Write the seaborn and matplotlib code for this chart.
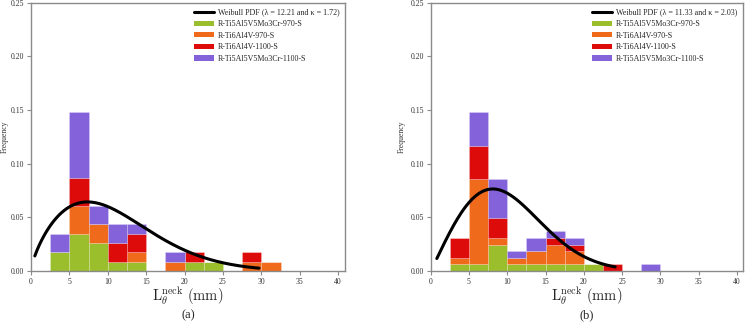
import numpy as np
import pandas as pd
import matplotlib
matplotlib.use("Agg")
import matplotlib.pyplot as plt
import seaborn as sns
from matplotlib.lines import Line2D
from matplotlib.patches import Patch

# ---------------- data ----------------
series = ["R-Ti5Al5V5Mo3Cr-970-S", "R-Ti6Al4V-970-S",
          "R-Ti6Al4V-1100-S", "R-Ti5Al5V5Mo3Cr-1100-S"]
colors = ["#9bbe2d", "#ef6a1a", "#de0b0b", "#8462da"]
bin_width = 2.5

# panel (a)
bin_left_a = [2.5, 5, 7.5, 10, 12.5, 15, 17.5, 20, 22.5, 25, 27.5, 30]
counts_a_green = [2, 4, 3, 1, 1, 0, 0, 1, 1, 0, 0, 0]
counts_a_orange = [0, 3, 2, 0, 1, 0, 1, 0, 0, 0, 1, 1]
counts_a_red = [0, 3, 0, 2, 2, 0, 0, 1, 0, 0, 1, 0]
counts_a_purple = [2, 7, 2, 2, 1, 0, 1, 0, 0, 0, 0, 0]
weibull_lambda_a = 12.21
weibull_kappa_a = 1.72
curve_range_a = (0.5, 29.7)

# panel (b)
bin_left_b = [2.5, 5, 7.5, 10, 12.5, 15, 17.5, 20, 22.5, 25, 27.5]
counts_b_green = [1, 1, 4, 1, 1, 1, 1, 1, 0, 0, 0]
counts_b_orange = [1, 13, 1, 1, 2, 3, 2, 0, 0, 0, 0]
counts_b_red = [3, 5, 3, 0, 0, 1, 1, 0, 1, 0, 0]
counts_b_purple = [0, 5, 6, 1, 2, 1, 1, 0, 0, 0, 1]
weibull_lambda_b = 11.33
weibull_kappa_b = 2.03
curve_range_b = (0.8, 24.1)

x_ticks = [0, 5, 10, 15, 20, 25, 30, 35, 40]
y_ticks = [0.00, 0.05, 0.10, 0.15, 0.20, 0.25]

# ---------------- style ----------------
sns.set_style("ticks")
plt.rcParams["font.family"] = ["Liberation Serif", "DejaVu Serif"]
plt.rcParams["mathtext.fontset"] = "cm"

fig = plt.figure(figsize=(7.46, 3.30), dpi=100)
ax_a = fig.add_axes([31 / 746, 59 / 330, 314 / 746, 268.3 / 330])
ax_b = fig.add_axes([430.7 / 746, 59 / 330, 312.3 / 746, 268.3 / 330])


def make_df(bin_left, counts_list):
    rows = []
    for name, counts in zip(series, counts_list):
        for b, c in zip(bin_left, counts):
            rows.append({"x": b + bin_width / 2, "w": c, "series": name})
    return pd.DataFrame(rows)


def draw(ax, bin_left, counts_list, lam, kap, crange, xmax, ylab_x):
    df = make_df(bin_left, counts_list)
    edges = list(bin_left) + [bin_left[-1] + bin_width]
    sns.histplot(data=df, x="x", weights="w", hue="series",
                 hue_order=series[::-1], palette=dict(zip(series, colors)),
                 bins=edges, stat="density", common_norm=True,
                 multiple="stack", alpha=1, edgecolor=(1, 1, 1, 0.35),
                 linewidth=0.4, legend=False, ax=ax)
    xs = np.linspace(crange[0], crange[1], 200)
    pdf = (kap / lam) * (xs / lam) ** (kap - 1) * np.exp(-(xs / lam) ** kap)
    sns.lineplot(x=xs, y=pdf, color="black", linewidth=2.2, ax=ax, zorder=5)

    ax.set_xlim(0, xmax)
    ax.set_ylim(0, 0.25)
    ax.set_xticks(x_ticks)
    ax.set_yticks(y_ticks)
    ax.set_yticklabels([f"{v:.2f}" for v in y_ticks])
    for s in ax.spines.values():
        s.set_visible(True)
        s.set_color("#8a8a8a")
        s.set_linewidth(1.0)
    ax.tick_params(axis="both", length=3, width=0.8, color="#8a8a8a",
                   labelsize=5.6, labelcolor="#333333", pad=2)
    ax.set_ylabel("Frequency", fontsize=5.6, color="#333333")
    ax.yaxis.set_label_coords(ylab_x, 0.5)
    ax.set_xlabel(r"$\mathrm{L}_{\theta}^{\mathrm{neck}}\ (\mathrm{mm})$",
                  fontsize=10.5, labelpad=0)

    handles = [Line2D([0], [0], color="black", linewidth=2.2,
                      label=f"Weibull PDF (\u03bb = {lam:.2f} and \u03ba = {kap:.2f})")]
    for name, col in zip(series, colors):
        handles.append(Patch(facecolor=col, edgecolor="none", label=name))
    ax.legend(handles=handles, loc="upper right", frameon=False,
              prop={"family": "Liberation Serif", "size": 5.8},
              handlelength=2.5, handleheight=0.6,
              handletextpad=0.5, labelspacing=0.45, borderaxespad=0.4,
              borderpad=0.3)


draw(ax_a, bin_left_a,
     [counts_a_green, counts_a_orange, counts_a_red, counts_a_purple],
     weibull_lambda_a, weibull_kappa_a, curve_range_a, 40.9, -0.07)
draw(ax_b, bin_left_b,
     [counts_b_green, counts_b_orange, counts_b_red, counts_b_purple],
     weibull_lambda_b, weibull_kappa_b, curve_range_b, 40.8, -0.08)

fig.text(188 / 746, 1 - 315 / 330, "(a)", ha="center", va="center", fontsize=9)
fig.text(587 / 746, 1 - 315 / 330, "(b)", ha="center", va="center", fontsize=9)

fig.savefig("out.png", dpi=100)
